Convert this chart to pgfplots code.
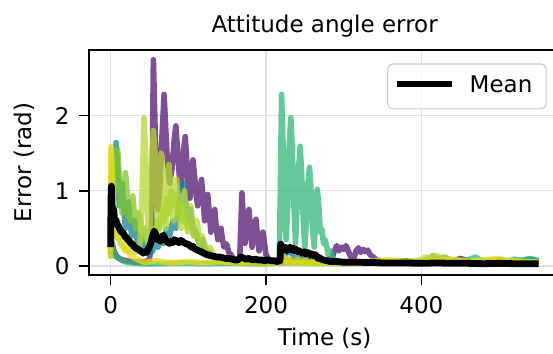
\documentclass[border=0pt]{standalone}
\usepackage{fontspec}
\setmainfont{DejaVu Sans}
\usepackage{pgfplots}
\pgfplotsset{compat=1.18}
\usetikzlibrary{calc}
\definecolor{cA}{RGB}{82,20,112}
\definecolor{cB}{RGB}{22,128,155}
\definecolor{cD}{RGB}{48,182,122}
\definecolor{cE}{RGB}{128,198,35}
\definecolor{cF}{RGB}{182,215,48}
\definecolor{cG}{RGB}{230,220,20}
\newcommand{\fs}{\fontsize{11.5}{13.8}\selectfont}
\begin{document}
\begin{tikzpicture}
\begin{axis}[name=ax, scale only axis, width=235.35pt, height=112.5pt,
  xmin=-27.5, xmax=578.5, ymin=-0.12, ymax=2.87,
  xtick={0,200,400}, ytick={0,1,2},
  tick align=outside, tick pos=left, major tick length=5pt,
  every tick/.style={black, line width=0.8pt},
  axis line style={line width=1pt},
  grid=major, grid style={black!12, line width=0.7pt},
  /pgf/number format/assume math mode=true,
  tick label style={font=\fs},
  xticklabel style={inner sep=0pt, anchor=base, yshift=-14pt},
  yticklabel style={inner sep=0pt, anchor=east, xshift=-4.65pt},
  title={Attitude angle error}, title style={font=\fs, at={(rel axis cs:0.5,1)}, anchor=base, yshift=3pt, inner sep=0pt},
  xlabel={Time (s)}, xlabel style={font=\fs, at={(rel axis cs:0.5,0)}, anchor=base, yshift=-35pt, inner sep=0pt},
  ylabel={Error (rad)}, ylabel style={font=\fs, at={(rel axis cs:0,0.5)}, anchor=center, yshift=32.65pt, inner sep=0pt},
  legend style={font=\fs, at={(rel axis cs:1,1)}, anchor=north east, xshift=-6.65pt, yshift=-6.65pt,
    draw=black!20, line width=0.6pt, rounded corners=2.5pt, fill=white, fill opacity=0.8, text opacity=1,
    inner xsep=3.35pt, inner ysep=2.8pt, nodes={inner xsep=3.5pt, inner ysep=3pt, text depth=2.5pt}},
  legend image code/.code={\path[draw=none, fill=none] (0pt,-3pt) rectangle (32.65pt,3pt); \draw[#1, line width=3pt] (0pt,1.25pt) -- (27.5pt,1.25pt);},
  every axis plot/.append style={line width=2.8pt, line join=round, draw opacity=0.75},
]
% purple
\addplot[cA, forget plot] coordinates {(0,0.15) (2,0.3) (4,0.2) (8,0.12) (15,0.08) (25,0.06) (35,0.05) (45,0.06) (50,0.08) (53,0.6) (55,2.74) (57,1.9) (59,1.1) (61,0.75) (63,1.0) (66,1.7) (68.8,2.28) (71,1.8) (73,1.4) (76,1.1) (79,1.3) (82,1.7) (84,1.86) (86,1.55) (88,1.25) (90,1.0) (92,1.2) (94,1.55) (96,1.72) (98,1.4) (100,1.05) (102,0.9) (104,1.15) (106,1.41) (108,1.2) (110,0.95) (112,0.8) (114,0.95) (117,1.15) (119,0.9) (121,0.6) (123,0.75) (125,0.95) (127,0.7) (129,0.45) (131,0.55) (134,0.75) (136,0.5) (138,0.35) (140,0.45) (142,0.5) (144,0.35) (146,0.25) (148,0.3) (150,0.27) (152,0.18) (155,0.15) (158,0.1) (162,0.06) (166,0.05) (167.5,0.5) (169,0.97) (171,0.6) (173,0.3) (175,0.5) (178,0.75) (180,0.5) (182,0.25) (184,0.4) (187,0.62) (189,0.4) (191,0.2) (193,0.3) (196,0.45) (198,0.3) (200,0.15) (203,0.1) (206,0.07) (215,0.05) (225,0.06) (240,0.08) (255,0.07) (270,0.06) (285,0.1) (288,0.2) (291,0.27) (294,0.2) (297,0.25) (300,0.22) (303,0.27) (306,0.2) (309,0.12) (313,0.1) (316,0.2) (319,0.24) (322,0.18) (325,0.22) (328,0.19) (331,0.21) (334,0.15) (338,0.12) (342,0.08) (350,0.06) (365,0.05) (380,0.07) (390,0.05) (400,0.04) (420,0.05) (430,0.08) (440,0.06) (450,0.1) (460,0.07) (470,0.05) (490,0.04) (510,0.05) (530,0.04) (551,0.03)};
% teal blue
\addplot[cB, forget plot] coordinates {(0,0.2) (1,0.9) (3,1.3) (5,1.1) (7,1.64) (9,1.3) (11,0.8) (13,0.9) (15,1.1) (17,0.75) (19,0.5) (21,0.7) (23,0.85) (25,0.6) (27,0.4) (29,0.55) (31,0.6) (33,0.4) (35,0.3) (38,0.4) (41,0.3) (44,0.2) (47,0.25) (50,0.15) (54,0.2) (58,0.35) (61,0.25) (65,0.4) (68,0.3) (72,0.5) (76,0.4) (80,0.6) (84,0.5) (88,0.8) (91,1.05) (93,0.85) (95,1.1) (97,0.8) (100,0.6) (103,0.75) (106,0.5) (110,0.45) (114,0.3) (118,0.35) (122,0.2) (128,0.15) (135,0.1) (145,0.07) (160,0.05) (180,0.05) (200,0.04) (220,0.05) (225,0.15) (230,0.22) (235,0.12) (245,0.1) (260,0.08) (275,0.06) (300,0.05) (350,0.04) (400,0.05) (430,0.07) (450,0.05) (480,0.06) (500,0.08) (520,0.06) (540,0.09) (551,0.07)};
% teal green
\addplot[cD, forget plot] coordinates {(0,0.1) (2,0.3) (5,0.15) (10,0.1) (20,0.05) (30,0.04) (40,0.03) (60,0.03) (90,0.04) (120,0.03) (150,0.04) (180,0.03) (210,0.04) (217,0.05) (218.5,1.0) (220,2.28) (222,1.6) (224,0.8) (226,0.35) (228,0.8) (230,1.6) (232,1.97) (234,1.5) (236,0.8) (238,0.3) (240,0.8) (242,1.3) (244,1.59) (246,1.2) (248,0.6) (250,0.25) (252,0.6) (254,1.1) (256,1.31) (258,1.0) (260,0.5) (262,0.25) (264,0.7) (266,1.02) (268,0.8) (270,0.45) (272,0.49) (274,0.3) (276,0.35) (278,0.27) (280,0.15) (283,0.2) (286,0.1) (290,0.07) (300,0.05) (320,0.04) (350,0.05) (380,0.04) (410,0.05) (420,0.1) (425,0.07) (440,0.05) (460,0.08) (470,0.12) (475,0.08) (490,0.05) (510,0.06) (520,0.09) (530,0.07) (540,0.1) (551,0.06)};
% green
\addplot[cE, forget plot] coordinates {(0,0.3) (1,1.2) (3,0.9) (5,1.1) (7,1.4) (9,1.55) (11,1.2) (13,0.8) (15,0.7) (17,1.05) (19,1.24) (21,1.0) (23,0.65) (25,0.6) (27,0.85) (28.5,0.93) (30,0.75) (32,0.5) (34,0.5) (36,0.71) (38,0.6) (40,0.4) (42,0.35) (44,0.5) (46,0.45) (48,0.3) (51,0.35) (54,0.5) (57,0.4) (60,0.6) (63,0.5) (66,0.75) (69,0.6) (72,0.9) (75,0.7) (78,1.0) (81,0.8) (84,0.95) (87,0.7) (90,0.8) (93,0.6) (96,0.7) (99,0.5) (103,0.55) (107,0.4) (111,0.4) (115,0.3) (120,0.25) (125,0.2) (132,0.12) (140,0.08) (150,0.05) (170,0.04) (200,0.03) (230,0.05) (260,0.04) (300,0.03) (350,0.04) (400,0.05) (410,0.1) (415,0.14) (420,0.09) (430,0.12) (440,0.07) (470,0.05) (500,0.06) (530,0.05) (551,0.04)};
% yellow green
\addplot[cF, forget plot] coordinates {(0,0.2) (1,1.55) (3,1.0) (5,0.6) (8,0.4) (12,0.3) (16,0.25) (20,0.2) (25,0.2) (30,0.18) (35,0.2) (38,0.3) (40,0.8) (42,1.6) (43,1.97) (45,1.5) (47,0.8) (49,0.3) (51,0.5) (53,1.3) (55,1.8) (57,1.5) (59,0.9) (61,0.45) (63,0.9) (65,1.5) (67,1.3) (69,0.8) (71,0.5) (73,0.9) (75,1.35) (77,1.1) (79,0.7) (81,0.6) (83,0.95) (85,1.15) (87,0.9) (89,0.6) (91,0.5) (93,0.85) (95,1.0) (97,0.75) (99,0.45) (101,0.6) (103,0.8) (105,0.6) (107,0.4) (109,0.45) (111,0.6) (113,0.45) (115,0.3) (118,0.4) (121,0.3) (124,0.2) (128,0.25) (132,0.15) (138,0.1) (145,0.06) (160,0.04) (190,0.03) (220,0.04) (260,0.03) (300,0.04) (340,0.05) (380,0.06) (400,0.08) (405,0.12) (410,0.1) (420,0.14) (425,0.1) (440,0.06) (460,0.05) (490,0.06) (520,0.05) (551,0.04)};
% yellow
\addplot[cG, forget plot] coordinates {(0,0.1) (0.5,1.59) (2,1.2) (3,0.6) (5,0.4) (7,0.55) (9,0.6) (11,0.5) (13,0.35) (15,0.45) (17,0.3) (19,0.2) (22,0.25) (25,0.15) (28,0.12) (32,0.1) (36,0.08) (40,0.06) (45,0.05) (50,0.06) (60,0.07) (70,0.05) (80,0.04) (90,0.05) (100,0.06) (110,0.05) (120,0.04) (130,0.05) (140,0.06) (150,0.05) (160,0.07) (170,0.05) (180,0.06) (190,0.08) (200,0.06) (210,0.05) (220,0.08) (223,0.12) (226,0.06) (230,0.1) (235,0.05) (240,0.09) (245,0.06) (250,0.08) (255,0.04) (260,0.06) (270,0.05) (280,0.04) (300,0.06) (320,0.05) (340,0.07) (360,0.08) (380,0.06) (400,0.05) (420,0.07) (440,0.09) (460,0.06) (480,0.08) (500,0.1) (510,0.07) (530,0.06) (551,0.05)};
% mean
\addplot[black, line width=3.4pt, draw opacity=1] coordinates {(0,0.25) (0.5,0.9) (1,1.06) (1.5,0.7) (2,0.8) (3,0.65) (4,0.75) (5,0.6) (6.5,0.62) (8,0.55) (10,0.53) (12,0.48) (14,0.45) (16,0.44) (18,0.4) (20,0.38) (22,0.35) (24,0.33) (26,0.3) (28,0.29) (30,0.26) (32,0.24) (34,0.23) (36,0.22) (38,0.2) (40,0.19) (42,0.17) (44,0.19) (46,0.18) (48,0.22) (50,0.26) (52,0.31) (54,0.4) (56,0.46) (58,0.42) (60,0.35) (62,0.37) (64,0.33) (66,0.38) (68,0.41) (70,0.36) (72,0.33) (74,0.31) (76,0.3) (78,0.33) (80,0.31) (82,0.35) (84,0.34) (86,0.32) (88,0.31) (90,0.34) (92,0.33) (94,0.31) (96,0.3) (98,0.29) (100,0.29) (102,0.27) (104,0.25) (106,0.26) (108,0.23) (110,0.22) (112,0.21) (114,0.2) (116,0.19) (118,0.18) (120,0.17) (124,0.15) (128,0.14) (132,0.13) (136,0.12) (140,0.12) (144,0.11) (148,0.1) (152,0.1) (156,0.09) (160,0.08) (164,0.08) (167,0.12) (170,0.11) (174,0.09) (178,0.1) (182,0.08) (186,0.09) (190,0.08) (194,0.08) (198,0.07) (202,0.08) (206,0.07) (210,0.07) (214,0.06) (218,0.07) (219,0.29) (221,0.24) (223,0.22) (225,0.25) (227,0.2) (229,0.23) (231,0.25) (233,0.21) (235,0.24) (237,0.2) (239,0.22) (241,0.19) (243,0.2) (245,0.18) (247,0.17) (249,0.19) (251,0.16) (253,0.18) (255,0.17) (257,0.15) (259,0.16) (261,0.14) (263,0.15) (265,0.13) (267,0.1) (269,0.11) (271,0.09) (274,0.08) (278,0.07) (282,0.06) (290,0.06) (300,0.05) (310,0.05) (320,0.05) (330,0.045) (340,0.045) (350,0.04) (360,0.04) (380,0.04) (400,0.035) (420,0.04) (440,0.035) (460,0.035) (480,0.03) (500,0.035) (520,0.03) (540,0.03) (551,0.03)};
\addlegendentry{Mean}
\end{axis}
\pgfresetboundingbox
\path[use as bounding box] ($(ax.south west)+(-44.65pt,-39.5pt)$) rectangle ($(ax.north west)+(231.85pt,25pt)$);
\end{tikzpicture}
\end{document}
